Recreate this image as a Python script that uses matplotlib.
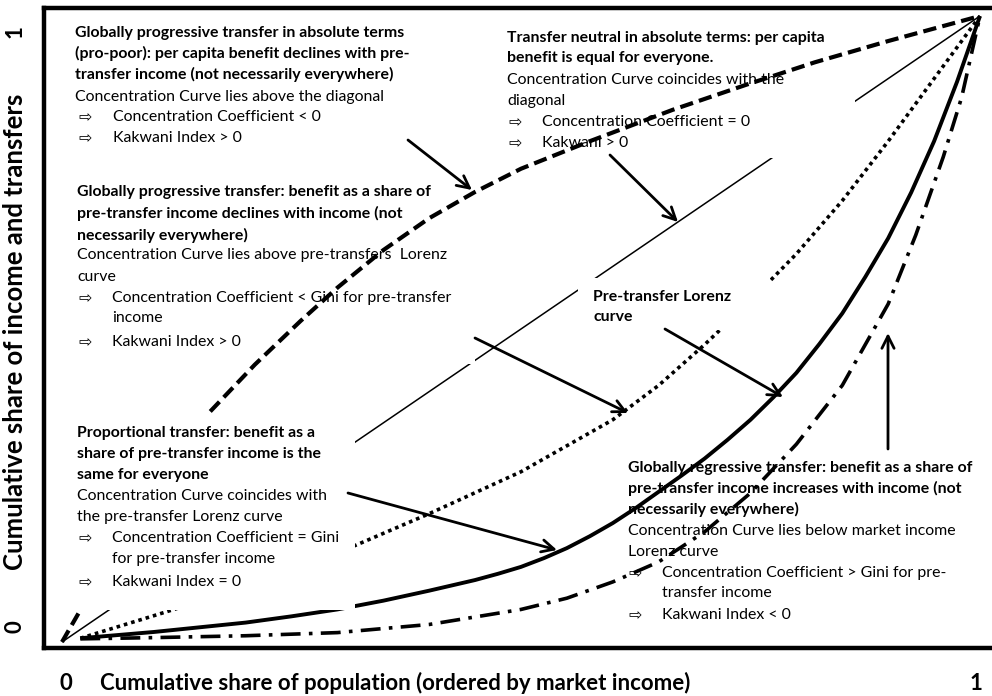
import matplotlib
matplotlib.use("Agg")
import matplotlib.pyplot as plt
from matplotlib.patches import Rectangle

plt.rcParams['font.family'] = ['Lato', 'DejaVu Sans']

# ---------------- data ----------------
diag_x = [0.0, 1.0]
diag_y = [0.0, 1.0]

# globally progressive in absolute terms (dashed, above diagonal)
abs_prog_x = [0.0, 0.02, 0.16, 0.21, 0.26, 0.30, 0.35, 0.40, 0.45, 0.50, 0.575, 0.665, 0.745, 0.82, 0.90, 1.0]
abs_prog_y = [0.0, 0.051, 0.366, 0.443, 0.513, 0.566, 0.626, 0.677, 0.719, 0.756, 0.800, 0.850, 0.890, 0.926, 0.960, 1.0]

# globally progressive relative to income (dotted)
rel_prog_x = [0.02, 0.10, 0.20, 0.30, 0.40, 0.50, 0.60, 0.65, 0.70, 0.75, 0.80, 0.85, 0.90, 0.95, 1.0]
rel_prog_y = [0.006, 0.042, 0.088, 0.142, 0.205, 0.272, 0.355, 0.410, 0.475, 0.545, 0.620, 0.705, 0.800, 0.900, 1.0]

# pre-transfer Lorenz curve (solid thick)
lorenz_x = [0.02, 0.10, 0.20, 0.25, 0.30, 0.35, 0.40, 0.45, 0.475, 0.50, 0.525, 0.55, 0.575, 0.60, 0.625, 0.65,
            0.675, 0.70, 0.725, 0.75, 0.775, 0.80, 0.825, 0.85, 0.875, 0.90, 0.925, 0.95, 0.975, 1.0]
lorenz_y = [0.006, 0.016, 0.031, 0.041, 0.052, 0.066, 0.082, 0.099, 0.109, 0.120, 0.134, 0.150, 0.169, 0.190,
            0.214, 0.240, 0.266, 0.293, 0.323, 0.355, 0.391, 0.430, 0.476, 0.525, 0.583, 0.645, 0.718, 0.800,
            0.895, 1.0]

# globally regressive (dash-dot)
regr_x = [0.02, 0.10, 0.20, 0.30, 0.40, 0.50, 0.55, 0.60, 0.65, 0.70, 0.75, 0.80, 0.85, 0.90, 0.93, 0.96, 0.98, 1.0]
regr_y = [0.005, 0.007, 0.010, 0.015, 0.028, 0.052, 0.070, 0.096, 0.128, 0.176, 0.238, 0.316, 0.410, 0.540, 0.650, 0.775, 0.870, 1.0]

# ---------------- layout helpers (pixel -> data) ----------------
W, H = 992, 696
X0, X1 = 62.0, 980.0      # pixel x of data 0 and 1
Y0, Y1 = 642.0, 16.0      # pixel y of data 0 and 1
SX, SY = X1 - X0, Y0 - Y1


def P(px, py):
    return (px - X0) / SX, (Y0 - py) / SY


fig = plt.figure(figsize=(W / 100, H / 100), dpi=100)
ax_l, ax_r, ax_t, ax_b = 44, 992, 8, 648
ax = fig.add_axes([ax_l / W, 1 - ax_b / H, (ax_r - ax_l) / W, (ax_b - ax_t) / H])
ax.set_xlim(P(ax_l, 0)[0], P(ax_r, 0)[0])
ax.set_ylim(P(0, ax_b)[1], P(0, ax_t)[1])
ax.set_xticks([])
ax.set_yticks([])
for s in ['left', 'top', 'bottom']:
    ax.spines[s].set_linewidth(3.2)
ax.spines['right'].set_visible(False)

# ---------------- curves ----------------
ax.plot(diag_x, diag_y, color='black', lw=1.1, zorder=1, solid_capstyle='butt')
ax.plot(rel_prog_x, rel_prog_y, color='black', lw=2.6, linestyle=(0, (1, 1.1)), zorder=1)
ax.plot(abs_prog_x, abs_prog_y, color='black', lw=3.0, linestyle=(0, (3.2, 1.5)), zorder=3)
ax.plot(lorenz_x, lorenz_y, color='black', lw=2.8, zorder=3, solid_capstyle='butt',
        solid_joinstyle='round')
ax.plot(regr_x, regr_y, color='black', lw=2.6, linestyle=(0, (5.5, 2.3, 1.0, 2.3)), zorder=3)

# ---------------- white text boxes (pixel boxes) ----------------
boxes = [
    ((66, 14, 408, 150), 2),
    ((66, 180, 475, 364), 2),
    ((500, 22, 855, 158), 2),
    ((76, 413, 355, 610), 4),
    ((578, 278, 770, 330), 2),
    ((620, 455, 985, 625), 2),
]
for (x0, y0, x1, y1), z in boxes:
    a = P(x0, y1)
    b = P(x1, y0)
    ax.add_patch(Rectangle(a, b[0] - a[0], b[1] - a[1], facecolor='white',
                           edgecolor='none', zorder=z))

FS = 11.4
ARROW = '\u21e8'


def block(x, xa, xb, lines, z):
    for kind, txt, py in lines:
        if kind == 'b':
            ax.text(*P(x, py), txt, fontsize=FS, fontweight='bold', va='center', ha='left', zorder=z)
        elif kind == 'n':
            ax.text(*P(x, py), txt, fontsize=FS, va='center', ha='left', zorder=z)
        elif kind == 'a':
            ax.text(*P(xa, py), ARROW, fontsize=FS, va='center', ha='left', zorder=z,
                    family=['DejaVu Sans'])
            ax.text(*P(xb, py), txt, fontsize=FS, va='center', ha='left', zorder=z)
        elif kind == 'c':
            ax.text(*P(xb, py), txt, fontsize=FS, va='center', ha='left', zorder=z)


block(75, 78, 113, [
    ('b', 'Globally progressive transfer in absolute terms', 33),
    ('b', '(pro-poor): per capita benefit declines with pre-', 53),
    ('b', 'transfer income (not necessarily everywhere)', 74),
    ('n', 'Concentration Curve lies above the diagonal', 97),
    ('a', 'Concentration Coefficient < 0', 117),
    ('a', 'Kakwani Index > 0', 138),
], 2.5)

block(77, 78, 112, [
    ('b', 'Globally progressive transfer: benefit as a share of', 192),
    ('b', 'pre-transfer income declines with income (not', 213),
    ('b', 'necessarily everywhere)', 235),
    ('n', 'Concentration Curve lies above pre-transfers  Lorenz', 255),
    ('n', 'curve', 277),
    ('a', 'Concentration Coefficient < Gini for pre-transfer', 298),
    ('c', 'income', 318),
    ('a', 'Kakwani Index > 0', 342),
], 2.5)

block(507, 508, 542, [
    ('b', 'Transfer neutral in absolute terms: per capita', 38),
    ('b', 'benefit is equal for everyone.', 58),
    ('n', 'Concentration Curve coincides with the', 80),
    ('n', 'diagonal', 101),
    ('a', 'Concentration Coefficient = 0', 122),
    ('a', 'Kakwani > 0', 143),
], 2.5)

block(77, 78, 112, [
    ('b', 'Proportional transfer: benefit as a', 433),
    ('b', 'share of pre-transfer income is the', 454),
    ('b', 'same for everyone', 475),
    ('n', 'Concentration Curve coincides with', 496),
    ('n', 'the pre-transfer Lorenz curve', 517),
    ('a', 'Concentration Coefficient = Gini', 538),
    ('c', 'for pre-transfer income', 559),
    ('a', 'Kakwani Index = 0', 582),
], 5)

block(593, 593, 593, [
    ('b', 'Pre-transfer Lorenz', 297),
    ('b', 'curve', 317),
], 2.5)

block(628, 628, 662, [
    ('b', 'Globally regressive transfer: benefit as a share of', 468),
    ('b', 'pre-transfer income increases with income (not', 488),
    ('b', 'necessarily everywhere)', 509),
    ('n', 'Concentration Curve lies below market income', 531),
    ('n', 'Lorenz curve', 552),
    ('a', 'Concentration Coefficient > Gini for pre-', 573),
    ('c', 'transfer income', 593),
    ('a', 'Kakwani Index < 0', 615),
], 2.5)

# ---------------- pointer arrows (pixel start -> end) ----------------
arrows = [
    ((408, 140), (472, 190)),
    ((610, 155), (678, 222)),
    ((475, 338), (628, 413)),
    ((665, 329), (783, 397)),
    ((348, 493), (557, 550)),
    ((888, 449), (888, 333)),
]
for s, e in arrows:
    ax.annotate('', xy=P(*e), xytext=P(*s),
                arrowprops=dict(arrowstyle='->', lw=2.0, color='black',
                                mutation_scale=22, shrinkA=0, shrinkB=0),
                zorder=6)


# ---------------- axis labels ----------------
def F(px, py):
    return px / W, 1 - py / H


fig.text(*F(66, 683), '0', fontsize=16, fontweight='bold', ha='center', va='center')
fig.text(*F(976, 683), '1', fontsize=16, fontweight='bold', ha='center', va='center')
fig.text(*F(395, 683), 'Cumulative share of population (ordered by market income)',
         fontsize=16, fontweight='bold', ha='center', va='center')
fig.text(*F(15, 32), '1', fontsize=16, fontweight='bold', ha='center', va='center', rotation=90)
fig.text(*F(15, 627), '0', fontsize=16, fontweight='bold', ha='center', va='center', rotation=90)
fig.text(*F(15, 332), 'Cumulative share of income and transfers',
         fontsize=18.5, fontweight='bold', ha='center', va='center', rotation=90)

fig.savefig('out.png', dpi=100)
